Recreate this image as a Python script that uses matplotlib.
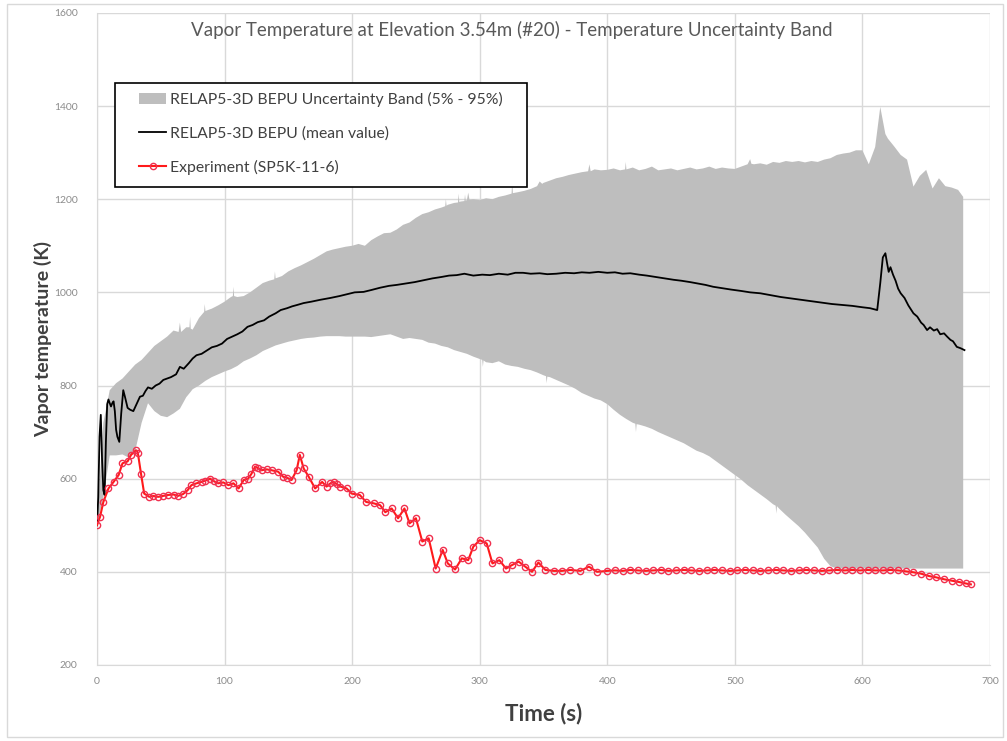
"""
Vapor temperature at elevation 3.54 m (#20) with the RELAP5-3D BEPU
uncertainty band, the mean value and the SP5K-11-6 experiment.
"""

import matplotlib.pyplot as plt
from matplotlib.patches import Patch, Rectangle
from matplotlib.lines import Line2D


# ============================================================
# DATA
# ============================================================
# upper edge of the band (95%)
high_time = [0, 5, 10, 15, 20, 25, 30, 35, 40, 45, 50, 55, 60, 64, 65, 66, 70,
             72.5, 73, 73.5, 75, 80, 84, 84.5, 85, 90, 95, 100, 105, 106.5,
             107, 107.5, 110, 115, 120, 125, 130, 135, 139, 139.5, 140, 145,
             150, 155, 160, 165, 170, 175, 180, 185, 190, 195, 200, 205, 210,
             215, 220, 225, 230, 235, 240, 245, 250, 255, 260, 265, 270, 273,
             273.5, 274, 275, 280, 283, 283.5, 284, 285, 288, 288.5, 289, 290,
             291, 292, 295, 300, 305, 310, 315, 320, 325, 325.5, 326, 330, 335,
             340, 345, 347, 349, 350, 355, 360, 365, 370, 375, 380, 385, 386,
             387, 390, 395, 400, 405, 410, 414, 414.5, 415, 420, 425, 430, 435,
             440, 445, 450, 455, 460, 465, 470, 475, 480, 485, 490, 495, 500,
             505, 510, 512, 513, 515, 520, 525, 530, 535, 540, 545, 550, 555,
             560, 565, 570, 575, 580, 585, 590, 595, 600, 605, 610, 614, 618,
             620, 625, 630, 635, 640, 645, 650, 655, 660, 665, 670, 675, 679]

band_high = [500, 720, 790, 805, 815, 830, 845, 855, 870, 885, 895, 905, 918,
             915, 935, 915, 925, 925, 948, 922, 920, 945, 958, 975, 960, 965,
             972, 980, 990, 992, 1012, 992, 990, 992, 1000, 1010, 1020, 1025,
             1028, 1045, 1030, 1035, 1045, 1052, 1058, 1065, 1072, 1080, 1088,
             1092, 1095, 1098, 1100, 1104, 1100, 1112, 1120, 1127, 1128, 1135,
             1145, 1150, 1160, 1168, 1172, 1178, 1182, 1185, 1200, 1186, 1188,
             1192, 1193, 1212, 1194, 1195, 1196, 1210, 1197, 1198, 1214, 1199,
             1200, 1198, 1202, 1200, 1205, 1208, 1212, 1240, 1213, 1215, 1218,
             1222, 1228, 1238, 1233, 1235, 1240, 1245, 1248, 1252, 1255, 1258,
             1260, 1275, 1260, 1264, 1262, 1263, 1266, 1262, 1264, 1280, 1264,
             1268, 1262, 1265, 1270, 1262, 1264, 1266, 1262, 1265, 1268, 1264,
             1266, 1270, 1265, 1268, 1266, 1265, 1270, 1275, 1286, 1276, 1275,
             1277, 1274, 1280, 1278, 1282, 1280, 1282, 1279, 1282, 1280, 1285,
             1288, 1295, 1298, 1300, 1305, 1305, 1275, 1312, 1398, 1340, 1330,
             1313, 1295, 1285, 1227, 1250, 1263, 1223, 1245, 1228, 1225, 1220,
             1205]

# lower edge of the band (5%)
low_time = [0, 5, 10, 15, 20, 25, 30, 35, 40, 45, 50, 55, 60, 65, 70, 73, 75,
            80, 85, 90, 95, 100, 105, 110, 115, 120, 125, 130, 135, 140, 145,
            150, 155, 160, 165, 170, 175, 180, 185, 190, 195, 200, 205, 210,
            215, 220, 225, 230, 235, 240, 245, 250, 255, 260, 265, 270, 275,
            280, 285, 290, 295, 300, 302, 302.5, 303, 305, 310, 315, 320, 325,
            330, 335, 340, 345, 350, 352, 352.5, 353, 355, 360, 365, 370, 375,
            380, 385, 390, 395, 400, 405, 410, 415, 420, 422, 422.5, 423, 425,
            430, 435, 440, 445, 450, 455, 460, 465, 470, 475, 480, 485, 490,
            495, 500, 505, 510, 515, 520, 525, 530, 532, 532.5, 533, 535, 540,
            545, 550, 555, 560, 565, 570, 575, 580, 679]

band_low = [500, 560, 650, 650, 652, 645, 660, 720, 762, 745, 735, 732, 740,
            750, 775, 785, 792, 800, 810, 818, 824, 830, 835, 842, 852, 858,
            865, 874, 880, 886, 890, 894, 897, 900, 902, 903, 905, 906, 906,
            906, 905, 905, 905, 905, 904, 906, 908, 910, 905, 900, 902, 900,
            898, 892, 890, 885, 882, 876, 872, 868, 862, 857, 855, 840, 854,
            850, 848, 852, 845, 842, 840, 836, 833, 828, 822, 820, 805, 819,
            818, 812, 806, 800, 793, 784, 778, 772, 768, 760, 748, 737, 728,
            720, 718, 700, 717, 716, 712, 707, 700, 694, 688, 682, 676, 668,
            660, 655, 648, 638, 628, 618, 608, 598, 586, 576, 566, 556, 545,
            542, 525, 541, 535, 522, 510, 498, 484, 468, 452, 428, 412, 407,
            407]

mean_time = [0, 1, 2, 3, 4, 5, 6, 7, 8, 9, 10, 11, 12, 13, 14, 15, 16, 17.5,
             19, 20.6, 22, 24, 26, 28.5, 31, 33.7, 36, 38, 40, 43, 46, 49, 52,
             55, 58, 62, 65, 68, 72, 75, 78, 82, 86, 90, 94, 98, 102, 106, 110,
             114, 118, 122, 126, 131, 135, 140, 144, 149, 153, 157, 162, 168,
             175, 183, 190, 196, 202, 209, 215, 222, 229, 235, 242, 249, 256,
             263, 270, 276, 282, 288, 295, 302, 308, 315, 322, 328, 334, 340,
             347, 353, 360, 367, 374, 380, 386, 393, 400, 406, 412, 418, 425,
             431, 438, 445, 452, 458, 465, 471, 477, 483, 490, 497, 505, 512,
             520, 528, 536, 544, 552, 560, 568, 576, 584, 592, 600, 606, 611.6,
             614, 616, 618, 619.5, 620.6, 622, 624, 626, 628, 630, 633, 636,
             640, 643, 646, 648, 650.7, 653, 656, 658.6, 661, 664, 666.4, 669,
             671, 674, 677, 680]

mean_temp = [500, 560, 690, 737, 640, 575, 565, 680, 760, 770, 762, 755, 762,
             766, 745, 705, 690, 679, 740, 790, 775, 752, 748, 745, 760, 776,
             778, 788, 796, 793, 800, 804, 812, 815, 818, 824, 840, 836, 848,
             858, 865, 868, 875, 882, 885, 890, 900, 905, 910, 916, 926, 930,
             936, 940, 948, 955, 962, 966, 970, 973, 977, 980, 984, 988, 992,
             996, 1000, 1001, 1005, 1010, 1014, 1016, 1019, 1022, 1026, 1030,
             1033, 1036, 1037, 1040, 1036, 1038, 1037, 1040, 1038, 1042, 1042,
             1040, 1041, 1039, 1040, 1042, 1041, 1043, 1042, 1044, 1042, 1043,
             1040, 1041, 1038, 1036, 1033, 1030, 1027, 1025, 1022, 1019, 1016,
             1012, 1009, 1006, 1003, 1000, 998, 994, 990, 987, 984, 981, 978,
             975, 973, 971, 968, 966, 962, 1020, 1075, 1084, 1060, 1044, 1054,
             1038, 1025, 1008, 998, 988, 972, 955, 948, 935, 930, 919, 925, 918,
             921, 910, 912, 905, 898, 895, 883, 880, 876]

exp_time = [0, 2.4, 5, 9, 13, 17, 20, 24, 26.7, 30.6, 32, 34.5, 37, 41, 44, 48,
            52, 55.8, 60, 63.6, 67.5, 71, 74, 78, 82, 85, 88.7, 92, 95, 99, 103,
            107, 111, 115, 118.5, 121, 124, 126.5, 129, 133, 137, 142, 146,
            149, 152.5, 156.5, 159, 162, 166, 171, 176.5, 180, 183, 185.6,
            188, 190.8, 195.7, 199.6, 206, 211, 217, 222, 226, 231, 236, 241,
            245, 250, 255, 260, 265.5, 271, 275, 280.7, 286, 291, 295, 300,
            305.5, 310, 315.4, 320.6, 325, 330.5, 335.7, 341, 346, 351.5, 358,
            364.5, 371, 379, 385.6, 392, 400, 406, 412, 418, 424, 430, 436, 442,
            448, 454, 460, 466, 472, 478, 484, 490, 496, 502, 508, 514, 520,
            526, 532, 538, 544, 550, 556, 562, 568, 574, 580, 586, 592, 598,
            604, 610, 616, 622, 628, 634, 640, 646, 652, 658, 664, 670, 676,
            681, 685]

exp_temp = [500, 518, 550, 579, 593, 608, 633, 637, 651, 661, 656, 611, 568,
            561, 563, 561, 563, 565, 566, 563, 567, 575, 586, 590, 593, 596,
            600, 594, 590, 592, 586, 590, 579, 597, 600, 610, 626, 622, 618,
            620, 618, 615, 604, 602, 597, 618, 651, 622, 604, 579, 593, 583,
            590, 593, 588, 583, 579, 568, 565, 550, 547, 543, 528, 536, 515,
            536, 504, 515, 465, 472, 407, 447, 418, 405, 429, 425, 454, 468,
            461, 418, 425, 407, 414, 422, 411, 400, 420, 404, 402, 402, 404,
            402, 411, 400, 402, 403, 402, 404, 403, 402, 403, 404, 402, 403,
            404, 403, 402, 403, 404, 403, 402, 403, 404, 403, 402, 403, 404,
            403, 402, 403, 404, 403, 402, 403, 404, 403, 404, 403, 404, 403,
            403, 404, 403, 401, 399, 396, 391, 388, 384, 381, 378, 375, 373]

title_text = "Vapor Temperature at Elevation 3.54m (#20) - Temperature Uncertainty Band"
band_label = "RELAP5-3D BEPU Uncertainty Band (5% - 95%)"
mean_label = "RELAP5-3D BEPU (mean value)"
exp_label = "Experiment (SP5K-11-6)"
# ============================================================

band_color = '#BEBEBE'
red_line = '#FF1A1A'
red_marker = '#F0304F'


def main():
    plt.rcParams['font.family'] = ['Lato', 'DejaVu Sans']

    fig = plt.figure(figsize=(10.07, 7.41), dpi=100)
    ax = fig.add_axes([0.0963, 0.1026, 0.8868, 0.880])

    # band as one polygon: upper edge forward, lower edge backward
    ax.fill(high_time + low_time[::-1], band_high + band_low[::-1],
            color=band_color, linewidth=0, zorder=2)
    ax.plot(mean_time, mean_temp, color='black', linewidth=1.3, zorder=3)
    ax.plot(exp_time, exp_temp, color=red_line, linewidth=1.5, marker='o',
            markersize=4.5, markerfacecolor='none', markeredgecolor=red_marker,
            markeredgewidth=1.0, zorder=4)

    ax.set_xlim(0, 700)
    ax.set_ylim(200, 1600)
    ax.set_xticks(range(0, 701, 100))
    ax.set_yticks(range(200, 1601, 200))
    ax.grid(True, color='#D9D9D9', linewidth=1.0)
    ax.set_axisbelow(True)
    ax.tick_params(length=0, labelsize=7.5, colors='#8C8C8C')
    ax.tick_params(axis='y', pad=14)
    ax.tick_params(axis='x', pad=9)
    for side in ['top', 'right']:
        ax.spines[side].set_visible(False)
    for side in ['left', 'bottom']:
        ax.spines[side].set_color('#D9D9D9')

    ax.set_xlabel("Time (s)", fontsize=16, fontweight='bold', color='#404040',
                  labelpad=12)
    ax.set_ylabel("Vapor temperature (K)", fontsize=14, fontweight='bold',
                  color='#404040', labelpad=1)

    fig.text(0.508, 0.960, title_text, ha='center', va='center',
             fontsize=13.5, color='#595959')

    # legend: entries without frame, box drawn separately like Excel
    handles = [
        Patch(facecolor=band_color, edgecolor='none'),
        Line2D([], [], color='black', linewidth=1.3),
        Line2D([], [], color=red_line, linewidth=1.5, marker='o',
               markersize=4.5, markerfacecolor='none',
               markeredgecolor=red_marker),
    ]
    leg = ax.legend(handles, [band_label, mean_label, exp_label],
                    loc='upper left', bbox_to_anchor=(0.047, 0.879),
                    fontsize=11.3, labelspacing=1.22, handlelength=1.75,
                    handletextpad=0.25, borderpad=0, borderaxespad=0,
                    frameon=False)
    for txt in leg.get_texts():
        txt.set_color('#404040')
    ax.add_patch(Rectangle((0.020, 0.733), 0.4613, 0.160,
                           transform=ax.transAxes, fill=True,
                           facecolor='white', edgecolor='black',
                           linewidth=1.2, zorder=5))
    leg.set_zorder(6)

    fig.patches.append(Rectangle((0.007, 0.005), 0.989, 0.989,
                                 transform=fig.transFigure, fill=False,
                                 edgecolor='#D9D9D9', linewidth=1.0))

    fig.savefig("out.png", dpi=100)


if __name__ == "__main__":
    main()
